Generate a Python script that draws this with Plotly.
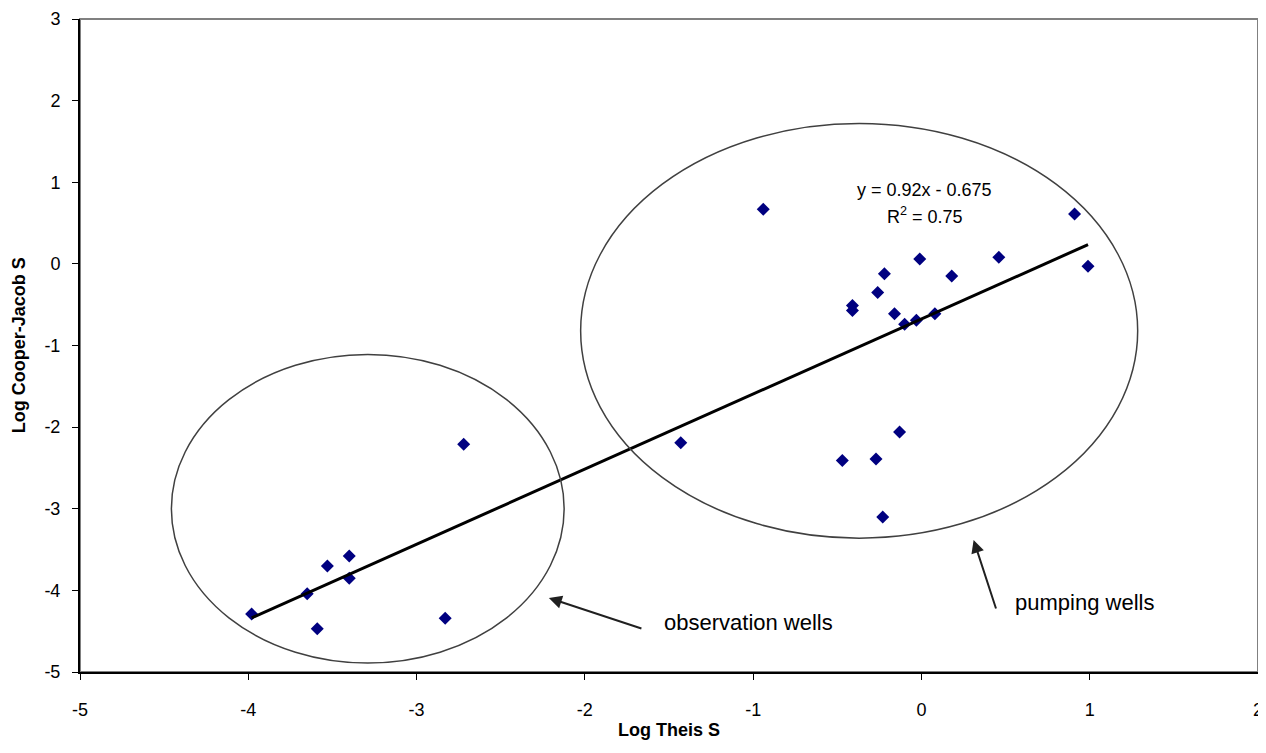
import plotly.graph_objects as go

# Observation wells (log Theis S, log Cooper-Jacob S)
obs_x = [-3.98, -3.65, -3.53, -3.40, -3.40, -3.59, -2.83, -2.72]
obs_y = [-4.29, -4.04, -3.70, -3.58, -3.85, -4.47, -4.34, -2.21]

# Pumping wells
pump_x = [-0.94, -0.01, 0.18, -0.22, -0.26, -0.41, -0.41, -0.16, -0.10, -0.03,
          0.08, 0.46, 0.91, 0.99, -1.43, -0.47, -0.27, -0.13, -0.23]
pump_y = [0.67, 0.06, -0.15, -0.12, -0.35, -0.51, -0.57, -0.61, -0.74, -0.69,
          -0.61, 0.08, 0.61, -0.03, -2.19, -2.41, -2.39, -2.06, -3.10]

# Linear trendline reported on the chart
slope = 0.92
intercept = -0.675
eq_text = "y = 0.92x - 0.675"
r2_text = "R<sup>2</sup> = 0.75"

x_ticks = [-5, -4, -3, -2, -1, 0, 1, 2]
y_ticks = [-5, -4, -3, -2, -1, 0, 1, 2, 3]

all_x = obs_x + pump_x
x_min, x_max = min(all_x), max(all_x)

fig = go.Figure()

fig.add_trace(go.Scatter(
    x=all_x, y=obs_y + pump_y, mode="markers",
    marker=dict(symbol="diamond", size=10, color="#000080"),
    showlegend=False, cliponaxis=False))

fig.add_trace(go.Scatter(
    x=[x_min, x_max], y=[slope * x_min + intercept, slope * x_max + intercept],
    mode="lines", line=dict(color="black", width=3), showlegend=False))

# Ellipses enclosing groups
fig.add_shape(type="circle", xref="x", yref="y",
              x0=-3.29 - 1.167, x1=-3.29 + 1.167, y0=-3.0 - 1.89, y1=-3.0 + 1.89,
              line=dict(color="#404040", width=1.5))
fig.add_shape(type="circle", xref="x", yref="y",
              x0=-0.37 - 1.655, x1=-0.37 + 1.655, y0=-0.82 - 2.54, y1=-0.82 + 2.54,
              line=dict(color="#404040", width=1.5))

# Plot-area border (grey)
fig.add_shape(type="rect", xref="paper", yref="paper", x0=0, x1=1, y0=0, y1=1,
              line=dict(color="#808080", width=2), layer="below")

fig.add_annotation(x=0.02, y=0.91, xref="x", yref="y", text=eq_text,
                   showarrow=False, font=dict(size=18, color="black"))
fig.add_annotation(x=0.02, y=0.59, xref="x", yref="y", text=r2_text,
                   showarrow=False, font=dict(size=18, color="black"))

# Arrows
fig.add_annotation(x=-2.214, y=-4.093, ax=-1.655, ay=-4.473, axref="x", ayref="y",
                   xref="x", yref="y", text="", showarrow=True,
                   arrowhead=2, arrowsize=1.3, arrowwidth=2, arrowcolor="#202020")
fig.add_annotation(x=0.31, y=-3.382, ax=0.446, ay=-4.24, axref="x", ayref="y",
                   xref="x", yref="y", text="", showarrow=True,
                   arrowhead=2, arrowsize=1.3, arrowwidth=2, arrowcolor="#202020")
fig.add_annotation(x=-1.03, y=-4.39, xref="x", yref="y", text="observation wells",
                   showarrow=False, font=dict(size=22, color="black"))
fig.add_annotation(x=0.97, y=-4.154, xref="x", yref="y", text="pumping wells",
                   showarrow=False, font=dict(size=22, color="black"))

# Axis titles
fig.add_annotation(x=0.5, y=-0.089, xref="paper", yref="paper", text="<b>Log Theis S</b>",
                   showarrow=False, font=dict(size=18, color="black"), yanchor="middle")
fig.add_annotation(x=-0.052, y=0.5, xref="paper", yref="paper",
                   text="<b>Log Cooper-Jacob S</b>", textangle=-90,
                   showarrow=False, font=dict(size=18, color="black"), xanchor="center")

# The page body adds an 8 px offset, so size the figure to compensate.
fig.update_layout(
    width=1258, height=745,
    margin=dict(l=72, r=8, t=11, b=81),
    paper_bgcolor="white", plot_bgcolor="white",
    font=dict(family="Arial, Liberation Sans, sans-serif", color="black", size=18),
    xaxis=dict(range=[-5, 2], tickvals=x_ticks, ticktext=[str(v) for v in x_ticks],
               showgrid=False, zeroline=False, showline=True, linecolor="black",
               linewidth=2, ticks="outside", ticklen=6, tickcolor="black",
               ticklabelstandoff=14, tickfont=dict(size=18), automargin=False),
    yaxis=dict(range=[-5, 3], tickvals=y_ticks, ticktext=[str(v) for v in y_ticks],
               showgrid=False, zeroline=False, showline=True, linecolor="black",
               linewidth=2, ticks="outside", ticklen=6, tickcolor="black",
               ticklabelstandoff=8, tickfont=dict(size=18), automargin=False),
)

fig.write_html("out.html")
